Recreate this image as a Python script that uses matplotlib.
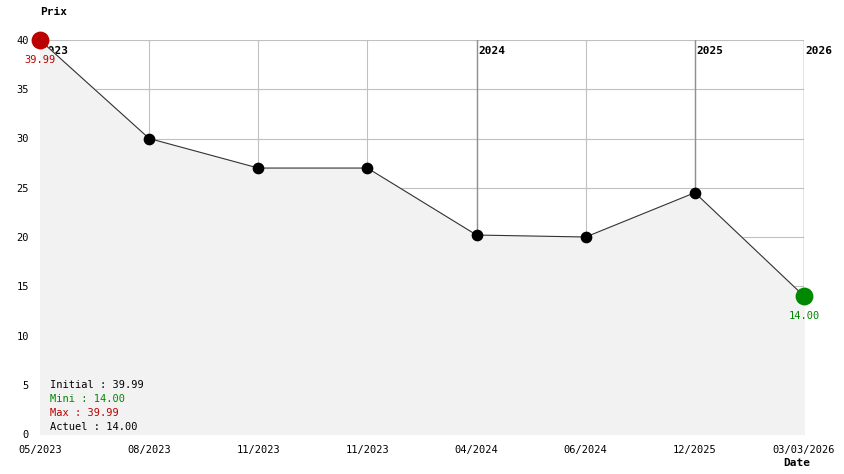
import matplotlib.pyplot as plt

# data
dates = ["05/2023", "08/2023", "11/2023", "11/2023", "04/2024", "06/2024", "12/2025", "03/03/2026"]
prices = [39.99, 30.0, 27.0, 27.0, 20.2, 20.0, 24.5, 14.0]
year_marks = [0, 4, 6, 7]
year_labels = ["2023", "2024", "2025", "2026"]
stats = [("Initial : 39.99", "black"), ("Mini : 14.00", "#008800"),
         ("Max : 39.99", "#bb0000"), ("Actuel : 14.00", "black")]

W, H = 844, 474
font = "DejaVu Sans Mono"
fig = plt.figure(figsize=(W / 100, H / 100), dpi=100)
ax = fig.add_axes([40 / W, 40 / H, 764 / W, 394 / H])

x = list(range(len(prices)))
ax.set_xlim(0, len(prices) - 1)
ax.set_ylim(0, 40)
for s in ax.spines.values():
    s.set_visible(False)

# grid
for i in x:
    ax.axvline(i, color="#c0c0c0", lw=0.8, zorder=0)
for v in range(5, 45, 5):
    ax.axhline(v, color="#c0c0c0", lw=0.8, zorder=0)
for i, lab in zip(year_marks, year_labels):
    ax.axvline(i, color="#909090", lw=1.0, zorder=0.5)
    ax.text(i + 0.012, 38.9, lab, fontsize=8, fontweight="bold", family=font,
            ha="left", va="center", zorder=1)

ax.fill_between(x, prices, 0, color="#f2f2f2", zorder=2)
ax.plot(x, prices, color="#333333", lw=0.8, zorder=3)
ax.scatter(x[1:-1], prices[1:-1], s=55, color="black", zorder=4)
ax.scatter([x[0]], [prices[0]], s=140, color="#bb0000", zorder=5, clip_on=False)
ax.scatter([x[-1]], [prices[-1]], s=140, color="#008800", zorder=5, clip_on=False)
ax.text(x[0], 38.0, "%.2f" % prices[0], color="#bb0000", fontsize=7.5, family=font,
        ha="center", va="center", zorder=6)
ax.text(x[-1], 12.0, "%.2f" % prices[-1], color="#008800", fontsize=7.5, family=font,
        ha="center", va="center", zorder=6)

ax.set_xticks(x)
ax.set_xticklabels(dates, fontsize=7.5, family=font)
ax.set_yticks(range(0, 45, 5))
ax.set_yticklabels([str(v) for v in range(0, 45, 5)], fontsize=7.5, family=font)
ax.tick_params(length=0, pad=8)

for k, (t, c) in enumerate(stats):
    fig.text(50 / W, 1 - (385 + 14 * k) / H, t, color=c, fontsize=7.5, family=font,
             ha="left", va="center")

fig.text(40 / W, 1 - 12 / H, "Prix", fontsize=8, fontweight="bold", family=font,
         ha="left", va="center")
fig.text(797 / W, 1 - 463 / H, "Date", fontsize=8, fontweight="bold", family=font,
         ha="center", va="center")

fig.savefig("out.png", dpi=100)
